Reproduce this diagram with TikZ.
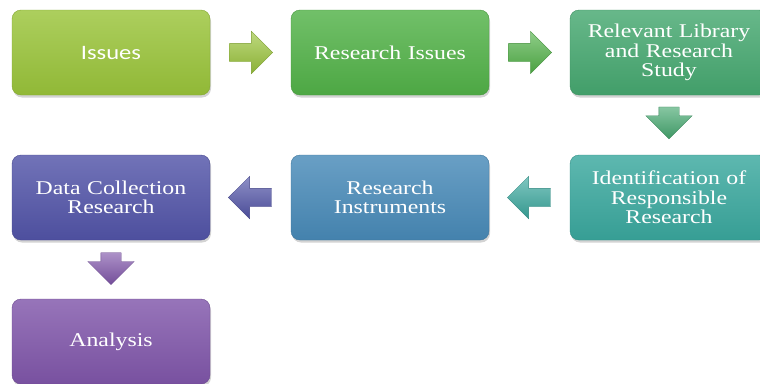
\documentclass[tikz,border=0pt]{standalone}
\usepackage{fontspec}
\setmainfont{Liberation Serif}[FakeStretch=1.22]
\newfontfamily\issuefont{Carlito}[FakeStretch=1.2]
\usetikzlibrary{shapes.arrows,shadows,calc}
\definecolor{cA}{RGB}{154,196,58}
\definecolor{cB}{RGB}{82,178,72}
\definecolor{cC}{RGB}{70,168,112}
\definecolor{cD}{RGB}{58,168,158}
\definecolor{cE}{RGB}{72,138,184}
\definecolor{cF}{RGB}{82,84,168}
\definecolor{cG}{RGB}{128,86,170}
\tikzset{
  stage/.style={rounded corners=9pt, minimum width=198pt, minimum height=85pt,
    inner sep=2pt, text width=194pt, align=center, text=white,
    font=\fontsize{19.5}{19.5}\selectfont,
    top color=#1!82!white, bottom color=#1!94!black, draw=#1!85!black, line width=0.4pt,
    drop shadow={opacity=0.35, shadow xshift=1pt, shadow yshift=-2.5pt}},
  blockarrow/.style={single arrow, draw=#1!80!black, line width=0.3pt,
    minimum height=43pt, inner xsep=0pt, inner ysep=9pt, single arrow head extend=12pt,
    top color=#1!65!white, bottom color=#1!90!black},
  downarrow/.style={blockarrow=#1, rotate=-90, minimum height=32pt, inner ysep=10pt,
    single arrow head extend=13pt}
}
\begin{document}
\begin{tikzpicture}[x=1pt,y=-1pt]
\useasboundingbox (0,0) rectangle (760,383);
\begin{scope}
\clip (0,0) rectangle (760,383);
\node[stage=cA, font=\issuefont\fontsize{20.5}{20.5}\selectfont] (iss) at (111,52.5) {Issues};
\node[stage=cB] (ri) at (390,52.5) {Research Issues};
\node[stage=cC] (rl) at (669,52.5) {Relevant Library\\and Research\\Study};
\node[stage=cD] (id) at (669,197.5) {Identification of\\Responsible\\Research};
\node[stage=cE] (ins) at (390,197.5) {Research\\Instruments};
\node[stage=cF] (dc) at (111,197.5) {Data Collection\\Research};
\node[stage=cG] (an) at (111,341.5) {Analysis};

\node[blockarrow=cA] (a1) at ($(iss.east)!0.45!(ri.west)$) {};
\node[blockarrow=cB] (a2) at ($(ri.east)!0.45!(rl.west)$) {};
\node[downarrow=cC] (a3) at ($(rl.south)!0.38!(id.north)$) {};
\node[blockarrow=cD, rotate=180] (a4) at ($(id.west)!0.45!(ins.east)$) {};
\node[blockarrow=cF, rotate=180] (a5) at ($(ins.west)!0.45!(dc.east)$) {};
\node[downarrow=cG] (a6) at ($(dc.south)!0.40!(an.north)$) {};
\end{scope}
\end{tikzpicture}
\end{document}
